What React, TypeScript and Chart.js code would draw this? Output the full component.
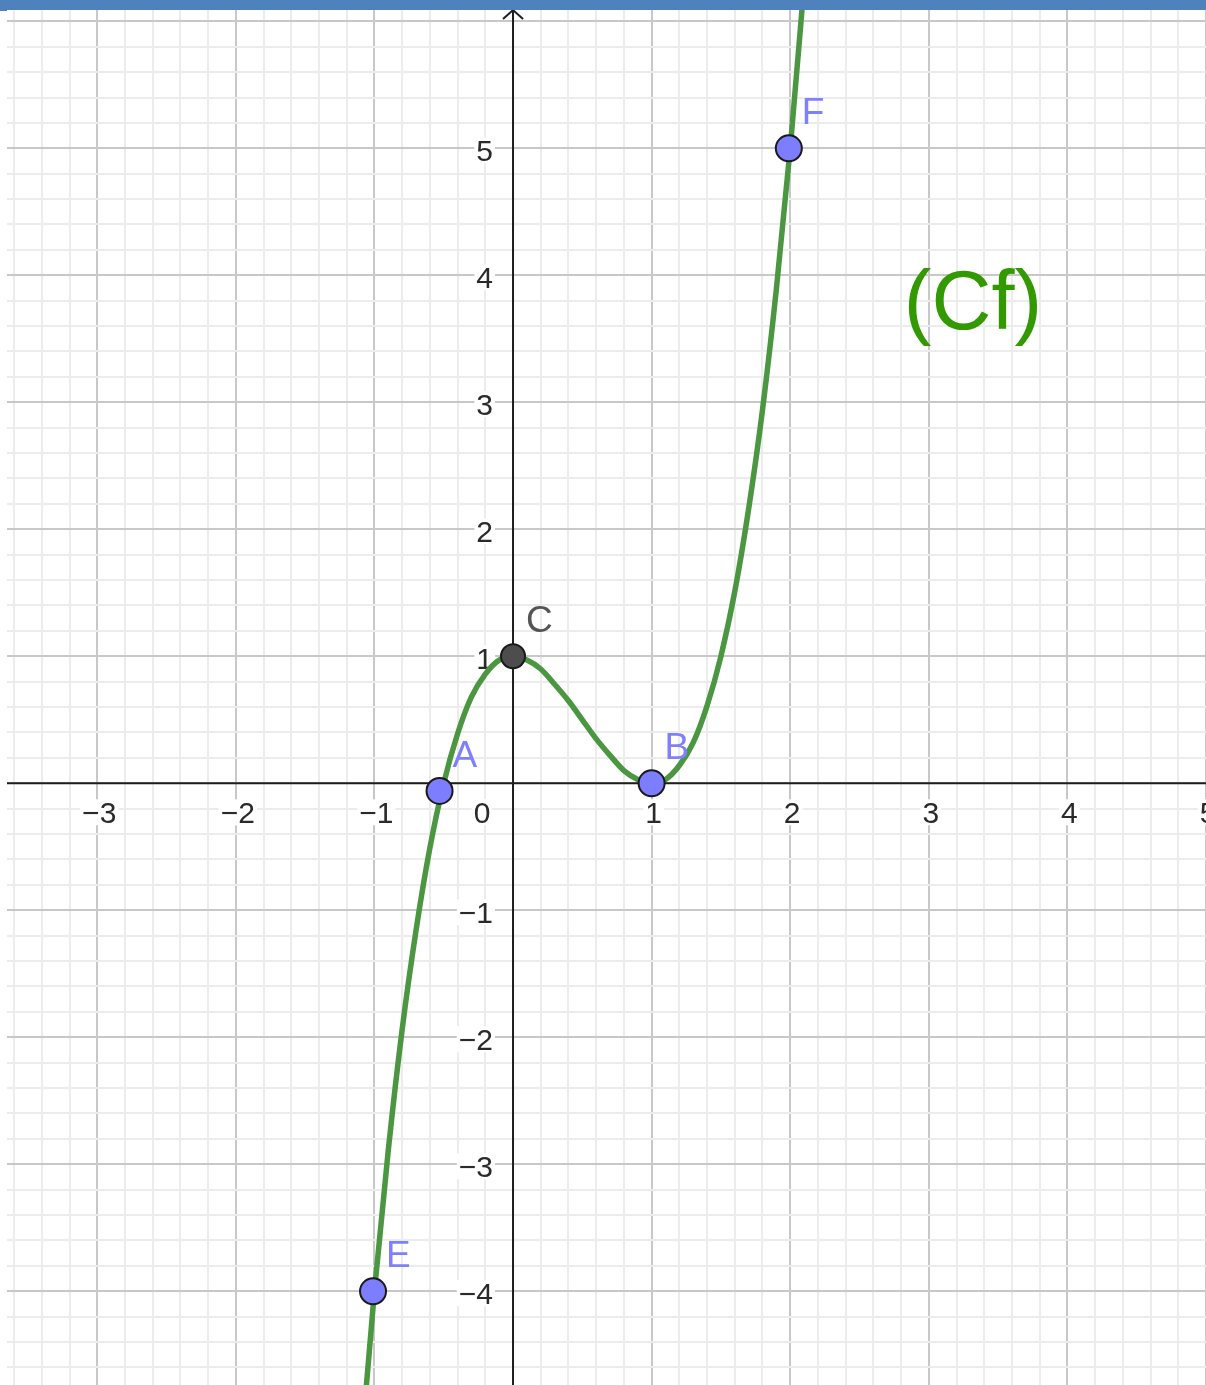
import React, { useEffect, useRef } from 'react';
import { Chart, registerables } from 'chart.js';

Chart.register(...registerables);

// Sampled points along the curve (Cf)
const CURVE_X = [-1.1, -1.0, -0.9, -0.8, -0.7, -0.6, -0.5, -0.4, -0.3, -0.2, -0.1, 0, 0.1, 0.2, 0.3, 0.4, 0.5, 0.6, 0.7, 0.8, 0.9, 1.0, 1.1, 1.2, 1.3, 1.4, 1.5, 1.6, 1.7, 1.8, 1.9, 2.0, 2.1];
const CURVE_Y = [-5.29, -4.0, -2.89, -1.94, -1.16, -0.51, 0.0, 0.39, 0.68, 0.86, 0.97, 1.0, 0.97, 0.9, 0.78, 0.65, 0.5, 0.35, 0.22, 0.1, 0.03, 0.0, 0.03, 0.14, 0.32, 0.61, 1.0, 1.51, 2.16, 2.94, 3.89, 5.0, 6.29];

// Named points
const POINT_NAMES = ['A', 'B', 'C', 'E', 'F'];
const POINT_X = [-0.53, 1.0, 0.0, -1.01, 1.99];
const POINT_Y = [-0.06, 0.0, 1.0, -4.0, 5.0];

// Axis tick labels
const X_TICKS = [-3, -2, -1, 1, 2, 3, 4, 5];
const Y_TICKS = [-4, -3, -2, -1, 1, 2, 3, 4, 5];

const CURVE_NAME = '(Cf)';
const CURVE_NAME_X = 2.82;
const CURVE_NAME_Y = 3.58;

const X_MIN = -3.651;
const X_MAX = 5.0;
const Y_MIN = -4.738;
const Y_MAX = 6.089;

const BLUE_POINT = '#7d7dff';
const GRAY_POINT = '#4d4d4d';
const BLUE_LABEL = '#8080ff';
const GRAY_LABEL = '#555555';
const CURVE_COLOR = '#4b9641';
const NAME_COLOR = '#339900';
const AXIS_COLOR = '#1e1e1e';
const TICK_COLOR = '#2a2a2a';
const FONT = '"Liberation Sans", Arial, sans-serif';

const minus = (v: number) => (v < 0 ? '\u2212' + Math.abs(v) : String(v));

const gridColor = (c: any) => {
  const v = c.tick ? c.tick.value : 0;
  return Math.abs(v - Math.round(v)) < 1e-6 ? '#c8c8c8' : '#ececec';
};

const axesPlugin = {
  id: 'axesOverlay',
  beforeDatasetsDraw(chart: any) {
    const { ctx, chartArea } = chart;
    const xs = chart.scales.x;
    const ys = chart.scales.y;
    const x0 = xs.getPixelForValue(0);
    const y0 = ys.getPixelForValue(0);
    ctx.save();
    ctx.strokeStyle = AXIS_COLOR;
    ctx.lineWidth = 2;
    ctx.beginPath();
    ctx.moveTo(chartArea.left, y0);
    ctx.lineTo(chartArea.right, y0);
    ctx.moveTo(x0, chartArea.top);
    ctx.lineTo(x0, chartArea.bottom);
    ctx.stroke();
    // arrow head on the vertical axis
    ctx.beginPath();
    ctx.moveTo(x0 - 10, chartArea.top + 9);
    ctx.lineTo(x0, chartArea.top);
    ctx.lineTo(x0 + 10, chartArea.top + 9);
    ctx.stroke();

    ctx.font = '30px ' + FONT;
    ctx.textBaseline = 'alphabetic';
    const label = (text: string, cx: number, cy: number, align: 'center' | 'right') => {
      const w = ctx.measureText(text).width;
      const left = align === 'center' ? cx - w / 2 : cx - w;
      ctx.fillStyle = '#ffffff';
      ctx.fillRect(left - 2, cy - 13, w + 4, 26);
      ctx.fillStyle = TICK_COLOR;
      ctx.textAlign = 'left';
      ctx.fillText(text, left, cy + 11);
    };
    X_TICKS.forEach((v) => {
      label(minus(v), xs.getPixelForValue(v) + 2, y0 + 29, 'center');
    });
    Y_TICKS.forEach((v) => {
      label(minus(v), x0 - 20, ys.getPixelForValue(v) + 2, 'right');
    });
    label('0', x0 - 31, y0 + 29, 'center');
    ctx.restore();
  },
  afterDatasetsDraw(chart: any) {
    const { ctx } = chart;
    const xs = chart.scales.x;
    const ys = chart.scales.y;
    const meta = chart.getDatasetMeta(0);
    ctx.save();
    ctx.font = '37px ' + FONT;
    ctx.textAlign = 'left';
    ctx.textBaseline = 'alphabetic';
    meta.data.forEach((el: any, i: number) => {
      ctx.fillStyle = POINT_NAMES[i] === 'C' ? GRAY_LABEL : BLUE_LABEL;
      ctx.fillText(POINT_NAMES[i], el.x + 13, el.y - 24);
    });
    ctx.font = '83px ' + FONT;
    ctx.fillStyle = NAME_COLOR;
    ctx.fillText(CURVE_NAME, xs.getPixelForValue(CURVE_NAME_X), ys.getPixelForValue(CURVE_NAME_Y));
    ctx.restore();
  },
};

export default function App() {
  const canvasRef = useRef<HTMLCanvasElement | null>(null);

  useEffect(() => {
    const canvas = canvasRef.current;
    if (!canvas) return;
    const pointData = POINT_X.map((x, i) => ({ x, y: POINT_Y[i] }));
    const curveData = CURVE_X.map((x, i) => ({ x, y: CURVE_Y[i] }));
    const chart = new Chart(canvas, {
      type: 'scatter',
      data: {
        datasets: [
          {
            label: 'points',
            data: pointData,
            pointRadius: POINT_NAMES.map((n) => (n === 'C' ? 12 : 13)),
            pointBackgroundColor: POINT_NAMES.map((n) => (n === 'C' ? GRAY_POINT : BLUE_POINT)),
            pointBorderColor: '#1a1a1a',
            pointBorderWidth: 2,
            showLine: false,
          },
          {
            label: 'Cf',
            data: curveData,
            showLine: true,
            pointRadius: 0,
            borderColor: CURVE_COLOR,
            borderWidth: 5.5,
            cubicInterpolationMode: 'monotone',
          } as any,
        ],
      },
      options: {
        responsive: false,
        animation: false,
        devicePixelRatio: 1,
        layout: { autoPadding: false, padding: { left: 7, top: 10, right: 0, bottom: 0 } },
        plugins: { legend: { display: false }, tooltip: { enabled: false } },
        events: [],
        scales: {
          x: {
            type: 'linear',
            min: X_MIN,
            max: X_MAX,
            ticks: { display: false, stepSize: 0.2, includeBounds: false },
            grid: { drawTicks: false, color: gridColor, lineWidth: 2 },
            border: { display: false },
          },
          y: {
            type: 'linear',
            min: Y_MIN,
            max: Y_MAX,
            ticks: { display: false, stepSize: 0.2, includeBounds: false },
            grid: { drawTicks: false, color: gridColor, lineWidth: 2 },
            border: { display: false },
          },
        },
      },
      plugins: [axesPlugin],
    });
    return () => chart.destroy();
  }, []);

  return (
    <div style={{ position: 'absolute', left: 0, top: 0, width: 1206, height: 1385, background: '#ffffff', overflow: 'hidden' }}>
      <canvas ref={canvasRef} width={1206} height={1385} style={{ display: 'block' }} />
      <div style={{ position: 'absolute', left: 0, top: 0, width: 1206, height: 10, background: '#4f81bd' }} />
      <div style={{ position: 'absolute', left: 0, top: 0, width: 7, height: 11, background: '#4f81bd' }} />
    </div>
  );
}
